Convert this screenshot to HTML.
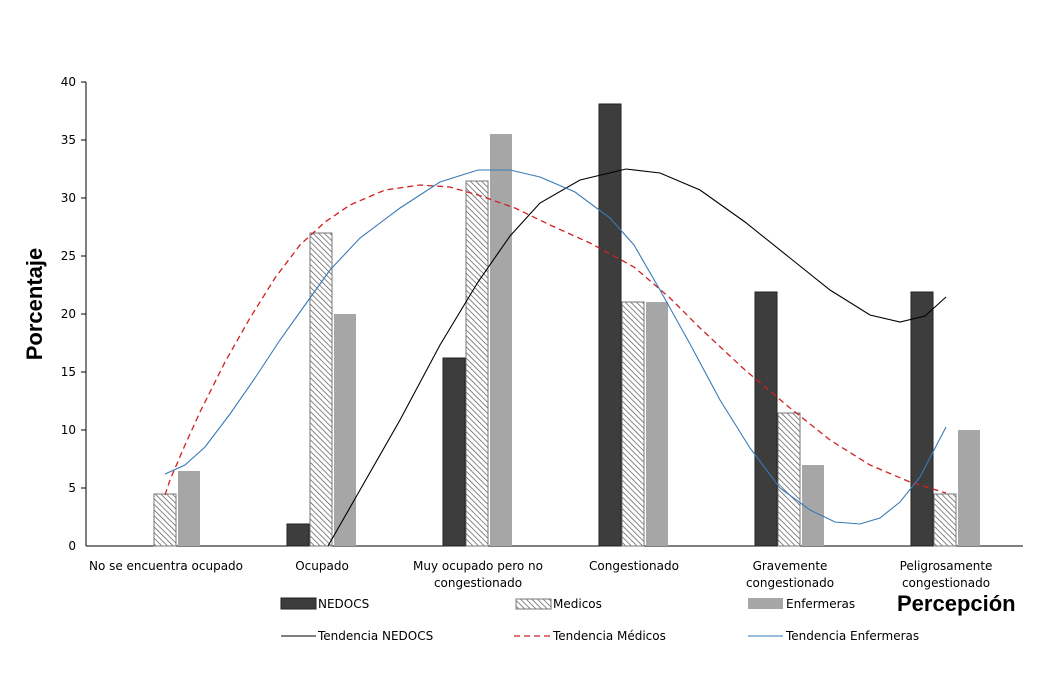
<!DOCTYPE html>
<html><head><meta charset="utf-8"><style>
body{margin:0;background:#fff}
svg{display:block}
text{font-family:"DejaVu Sans","Liberation Sans",sans-serif;font-size:12px;fill:#000}
</style></head><body>
<svg width="1049" height="686" viewBox="0 0 1049 686" xmlns="http://www.w3.org/2000/svg">
<defs>
<pattern id="h" patternUnits="userSpaceOnUse" width="4" height="4" patternTransform="rotate(-45)">
<rect width="4" height="4" fill="#fff"/><line x1="0" y1="0" x2="0" y2="4" stroke="#555" stroke-width="1.4"/>
</pattern>
</defs>
<line x1="86" y1="82" x2="86" y2="546" stroke="#000"/>
<line x1="86" y1="546" x2="1023" y2="546" stroke="#000"/>
<g stroke="#000">
<line x1="81" y1="82" x2="86" y2="82"/><line x1="81" y1="140" x2="86" y2="140"/><line x1="81" y1="198" x2="86" y2="198"/><line x1="81" y1="256" x2="86" y2="256"/><line x1="81" y1="314" x2="86" y2="314"/><line x1="81" y1="372" x2="86" y2="372"/><line x1="81" y1="430" x2="86" y2="430"/><line x1="81" y1="488" x2="86" y2="488"/>
</g>
<g text-anchor="end">
<text x="76" y="86">40</text><text x="76" y="144">35</text><text x="76" y="202">30</text><text x="76" y="260">25</text><text x="76" y="318">20</text><text x="76" y="376">15</text><text x="76" y="434">10</text><text x="76" y="492">5</text><text x="76" y="550">0</text>
</g>
<text transform="translate(42,304) rotate(-90)" text-anchor="middle" style="font-family:'Liberation Sans',sans-serif;font-size:22px;font-weight:bold">Porcentaje</text>
<g fill="#3d3d3d" stroke="#222">
<rect x="287" y="524" width="22" height="22"/>
<rect x="443" y="358" width="22" height="188"/>
<rect x="599" y="104" width="22" height="442"/>
<rect x="755" y="292" width="22" height="254"/>
<rect x="911" y="292" width="22" height="254"/>
</g>
<g fill="url(#h)" stroke="#777">
<rect x="154" y="494" width="22" height="52"/>
<rect x="310" y="233" width="22" height="313"/>
<rect x="466" y="181" width="22" height="365"/>
<rect x="622" y="302" width="22" height="244"/>
<rect x="778" y="413" width="22" height="133"/>
<rect x="934" y="494" width="22" height="52"/>
</g>
<g fill="#a6a6a6">
<rect x="178" y="471" width="22" height="75"/>
<rect x="334" y="314" width="22" height="232"/>
<rect x="490" y="134" width="22" height="412"/>
<rect x="646" y="302" width="22" height="244"/>
<rect x="802" y="465" width="22" height="81"/>
<rect x="958" y="430" width="22" height="116"/>
</g>
<polyline fill="none" stroke="#000" stroke-width="1.1" points="328,546 360,490 400,420 440,345 478,282 510,236 540,203 580,180 626,169 660,173 700,190 745,222 790,258 830,290 870,315 900,322 925,316 946,297"/>
<polyline fill="none" stroke="#d02020" stroke-width="1.3" stroke-dasharray="6,4" points="165,495 170,480 185,445 200,412 225,362 250,318 275,278 300,245 325,222 350,205 385,190 420,185 450,187 478,195 515,208 550,225 590,243 634,267 670,298 700,328 745,370 790,408 830,440 870,465 910,482 946,493"/>
<polyline fill="none" stroke="#3a7ab8" stroke-width="1.1" points="165,474 185,465 205,447 230,414 255,378 280,340 305,305 330,270 360,238 400,208 440,182 478,170 510,170 540,177 575,192 610,218 634,245 660,290 690,344 720,400 750,448 780,488 810,510 835,522 860,524 880,518 900,502 920,477 946,427"/>
<g text-anchor="middle">
<text x="166" y="570">No se encuentra ocupado</text>
<text x="322" y="570">Ocupado</text>
<text x="478" y="570">Muy ocupado pero no</text>
<text x="478" y="587">congestionado</text>
<text x="634" y="570">Congestionado</text>
<text x="790" y="570">Gravemente</text>
<text x="790" y="587">congestionado</text>
<text x="946" y="570">Peligrosamente</text>
<text x="946" y="587">congestionado</text>
</g>
<text x="897" y="611" style="font-family:'Liberation Sans',sans-serif;font-size:22px;font-weight:bold">Percepción</text>
<rect x="281" y="598" width="35" height="11" fill="#3d3d3d" stroke="#222"/>
<text x="318" y="608">NEDOCS</text>
<rect x="516" y="599" width="35" height="10" fill="url(#h)" stroke="#777"/>
<text x="553" y="608">Medicos</text>
<rect x="748" y="598" width="35" height="11" fill="#a6a6a6"/>
<text x="786" y="608">Enfermeras</text>
<line x1="281" y1="636" x2="316" y2="636" stroke="#000"/>
<text x="318" y="640">Tendencia NEDOCS</text>
<line x1="514" y1="636" x2="550" y2="636" stroke="#d02020" stroke-width="1.3" stroke-dasharray="6,4"/>
<text x="553" y="640">Tendencia Médicos</text>
<line x1="748" y1="636" x2="783" y2="636" stroke="#3a7ab8"/>
<text x="786" y="640">Tendencia Enfermeras</text>
</svg>
</body></html>
